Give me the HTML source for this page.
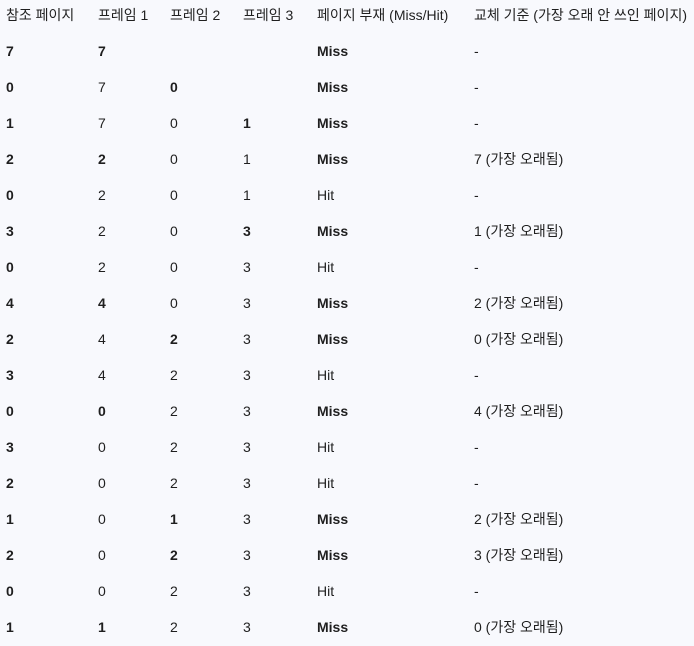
<!DOCTYPE html>
<html><head><meta charset="utf-8"><style>
html,body{margin:0;padding:0;}
body{width:694px;height:646px;background:#f8f9fd;font-family:"Liberation Sans","Noto Sans CJK KR",sans-serif;font-size:14px;color:#1f1f1f;position:relative;overflow:hidden;}
.c{position:absolute;line-height:20px;white-space:nowrap;}
.b{font-weight:bold;}
</style></head><body>
<script>
const cols=[6,98,170,243,317,474];
const headers=["참조 페이지","프레임 1","프레임 2","프레임 3","페이지 부재 (Miss/Hit)","교체 기준 (가장 오래 안 쓰인 페이지)"];
const refs=["7","0","1","2","0","3","0","4","2","3","0","3","2","1","2","0","1"];
const f1=["7*","7","7","2*","2","2","2","4*","4","4","0*","0","0","0","0","0","1*"];
const f2=["","0*","0","0","0","0","0","0","2*","2","2","2","2","1*","2*","2","2"];
const f3=["","","1*","1","1","3*","3","3","3","3","3","3","3","3","3","3","3"];
const fault=["Miss","Miss","Miss","Miss","Hit","Miss","Hit","Miss","Miss","Hit","Miss","Hit","Hit","Miss","Miss","Hit","Miss"];
const victim=["-","-","-","7","-","1","-","2","0","-","4","-","-","2","3","-","0"];
function cell(x,y,t,bold){
  const d=document.createElement('div');
  d.className='c'+(bold?' b':'');
  d.style.left=x+'px';d.style.top=(y-10)+'px';
  d.textContent=t;
  
  
  document.body.appendChild(d);
}
headers.forEach((h,i)=>{
  const d=document.createElement('div');
  d.className='c';d.style.left=cols[i]+'px';d.style.top='5px';d.textContent=h;
  
  
  document.body.appendChild(d);
});
refs.forEach((r,i)=>{
  const y=51+36*i;
  cell(cols[0],y,r,true);
  [f1,f2,f3].forEach((a,k)=>{const v=a[i];if(v)cell(cols[k+1],y,v.replace('*',''),v.includes('*'));});
  cell(cols[4],y,fault[i],fault[i]==="Miss");
  cell(cols[5],y,victim[i]==="-"?"-":victim[i]+" (가장 오래됨)",false);
});
</script>
</body></html>
